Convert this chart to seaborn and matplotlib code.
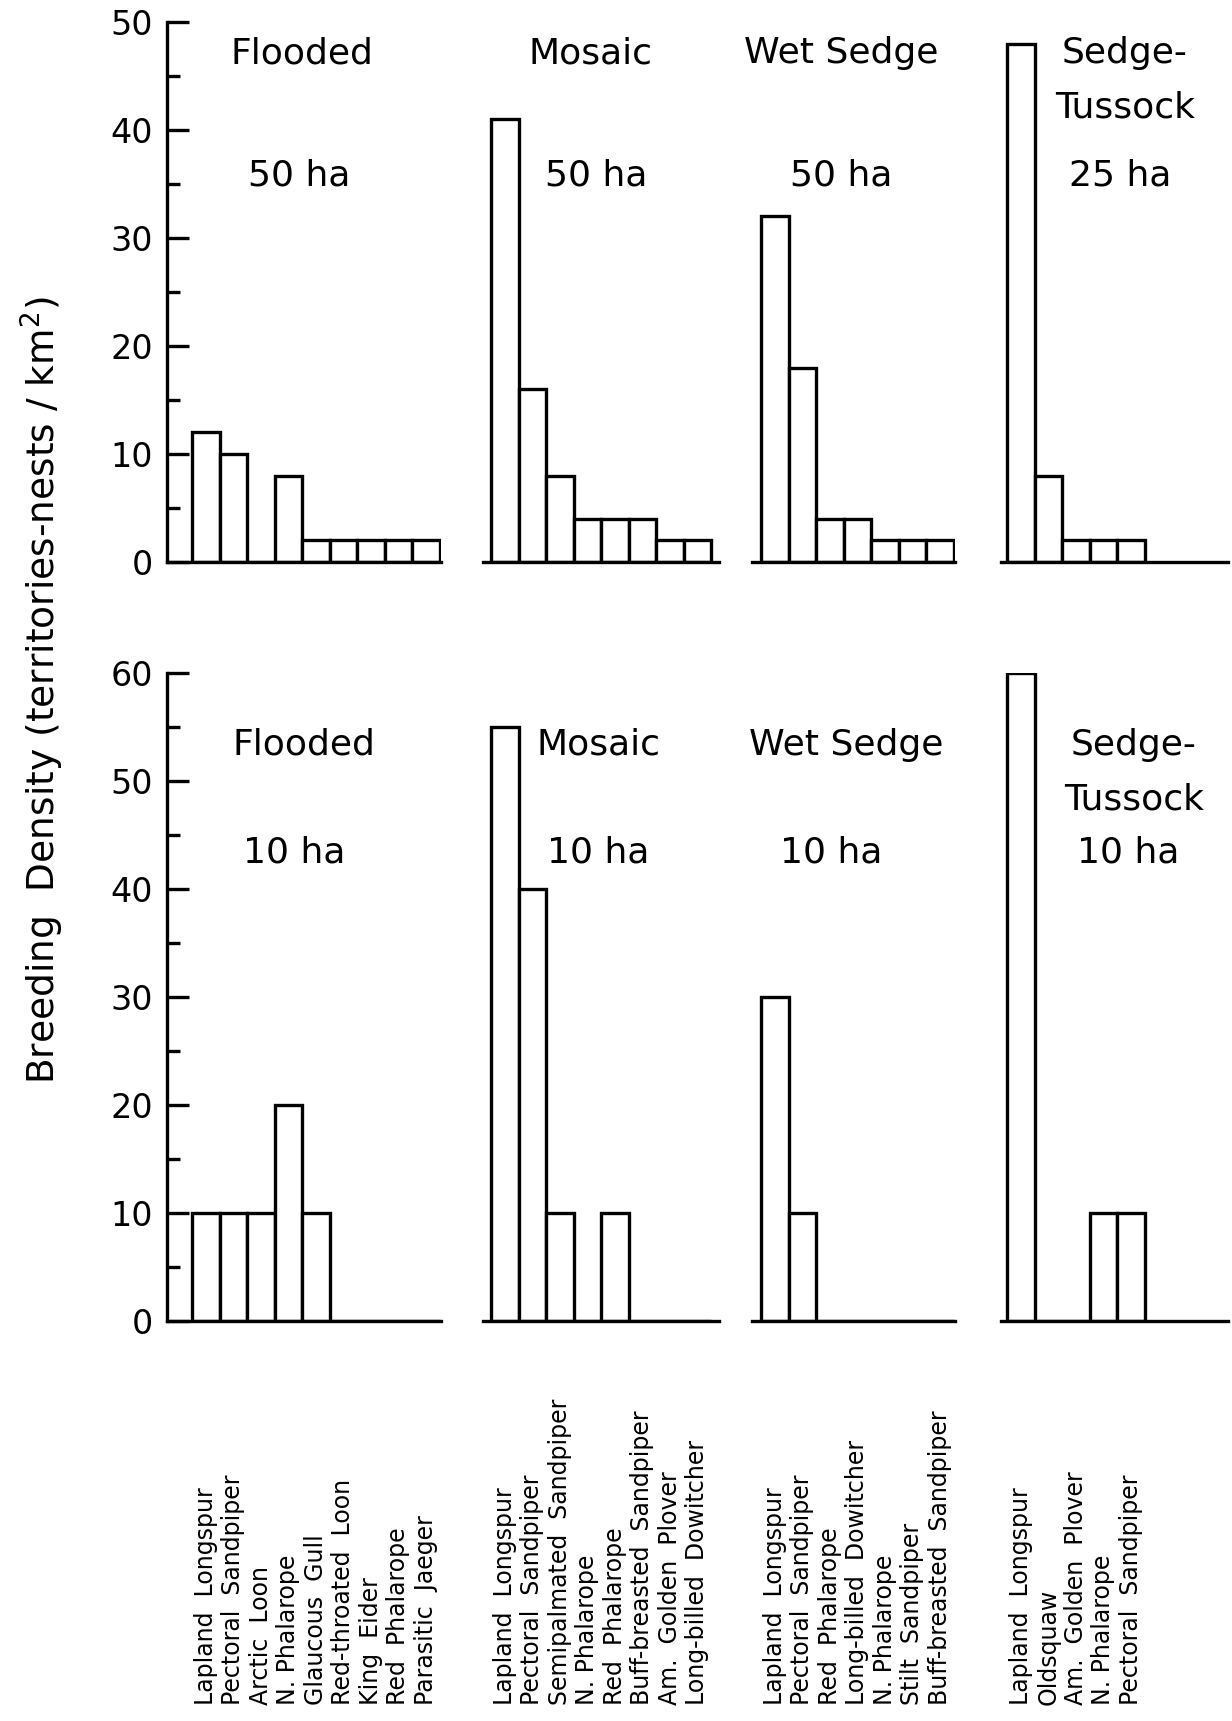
import matplotlib
matplotlib.use("Agg")
import matplotlib.pyplot as plt
from matplotlib.ticker import MultipleLocator
import seaborn as sns

# -----------------------------
# Data
# -----------------------------
flooded_species = [
    "Lapland  Longspur", "Pectoral  Sandpiper", "Arctic  Loon",
    "N. Phalarope", "Glaucous  Gull", "Red-throated  Loon",
    "King  Eider", "Red  Phalarope", "Parasitic  Jaeger",
]
mosaic_species = [
    "Lapland  Longspur", "Pectoral  Sandpiper", "Semipalmated  Sandpiper",
    "N. Phalarope", "Red  Phalarope", "Buff-breasted  Sandpiper",
    "Am.  Golden  Plover", "Long-billed  Dowitcher",
]
wet_species = [
    "Lapland  Longspur", "Pectoral  Sandpiper", "Red  Phalarope",
    "Long-billed  Dowitcher", "N. Phalarope", "Stilt  Sandpiper",
    "Buff-breasted  Sandpiper",
]
tussock_species = [
    "Lapland  Longspur", "Oldsquaw", "Am.  Golden  Plover",
    "N. Phalarope", "Pectoral  Sandpiper",
]

flooded_50 = [12, 10, 0, 8, 2, 2, 2, 2, 2]
mosaic_50 = [41, 16, 8, 4, 4, 4, 2, 2]
wet_50 = [32, 18, 4, 4, 2, 2, 2]
tussock_25 = [48, 8, 2, 2, 2]

flooded_10 = [10, 10, 10, 20, 10, 0, 0, 0, 0]
mosaic_10 = [55, 40, 10, 0, 10, 0, 0, 0]
wet_10 = [30, 10, 0, 0, 0, 0, 0]
tussock_10 = [60, 0, 0, 10, 10]

top_titles = [["Flooded"], ["Mosaic"], ["Wet Sedge"], ["Sedge-", "Tussock"]]
top_areas = ["50 ha", "50 ha", "50 ha", "25 ha"]
bottom_areas = ["10 ha", "10 ha", "10 ha", "10 ha"]

# -----------------------------
# Layout (pixels of the 1232 x 1721 figure)
# -----------------------------
W, H = 1232, 1721
sns.set_style("white")
plt.rcParams["font.family"] = ["DejaVu Sans"]
plt.rcParams["text.color"] = "black"
plt.rcParams["xtick.color"] = "black"
plt.rcParams["ytick.color"] = "black"
plt.rcParams["axes.labelcolor"] = "black"

fig = plt.figure(figsize=(W / 100, H / 100), dpi=100)

# x extent of each panel and where the first bar's left edge sits
panel_x = [(167, 441, 192), (483, 719, 491), (752, 955, 761), (1001, 1228, 1007)]
slot = 27.5
rows = [(22, 562, 50), (673, 1321, 60)]

species = [flooded_species, mosaic_species, wet_species, tussock_species]
values = [
    [flooded_50, mosaic_50, wet_50, tussock_25],
    [flooded_10, mosaic_10, wet_10, tussock_10],
]

title_pos = [
    [(302, 53), (591, 53), (841, 53), (1125, 53)],
    [(304, 745), (598, 745), (846, 745), (1134, 745)],
]
area_pos = [
    [(299, 176), (596, 176), (841, 176), (1120, 176)],
    [(294, 852), (598, 852), (831, 852), (1128, 852)],
]

LW = 2.4

for r, (y0, y1, ymax) in enumerate(rows):
    for c, (x0, x1, xb) in enumerate(panel_x):
        ax = fig.add_axes([x0 / W, 1 - y1 / H, (x1 - x0) / W, (y1 - y0) / H])
        n = len(species[c])

        sns.barplot(
            x=list(range(n)),
            y=values[r][c],
            ax=ax,
            color="white",
            edgecolor="black",
            linewidth=LW,
            width=1.0,
            saturation=1,
        )

        left = -0.5 - (xb - x0) / slot
        right = -0.5 + (x1 - xb) / slot
        ax.set_xlim(left, right)
        ax.set_ylim(0, ymax)
        ax.set_facecolor("none")

        for s in ["top", "right"]:
            ax.spines[s].set_visible(False)
        ax.spines["bottom"].set_linewidth(LW)
        ax.spines["bottom"].set_color("black")

        if c == 0:
            ax.spines["left"].set_linewidth(LW)
            ax.spines["left"].set_color("black")
            ax.yaxis.set_major_locator(MultipleLocator(10))
            ax.yaxis.set_minor_locator(MultipleLocator(5))
            ax.tick_params(axis="y", which="major", direction="in",
                           length=16, width=LW, labelsize=24, pad=10,
                           left=True)
            ax.tick_params(axis="y", which="minor", direction="in",
                           length=9, width=LW, left=True)
        else:
            ax.spines["left"].set_visible(False)
            ax.set_yticks([])

        ax.set_xticks(range(n))
        if r == 1:
            ax.set_xticklabels(species[c], rotation=90, va="bottom",
                               ha="center", fontsize=17)
            ax.tick_params(axis="x", length=0, pad=(1705 - y1) * 0.72)
        else:
            ax.set_xticklabels([])
            ax.tick_params(axis="x", length=0)
        ax.set_xlabel("")
        ax.set_ylabel("")

# -----------------------------
# Panel titles
# -----------------------------
for r in range(2):
    for c in range(4):
        tx, ty = title_pos[r][c]
        lines = top_titles[c]
        for k, line in enumerate(lines):
            fig.text(tx / W, 1 - (ty + k * 55) / H, line,
                     ha="center", va="center", fontsize=26)
        ax_, ay_ = area_pos[r][c]
        area = top_areas[c] if r == 0 else bottom_areas[c]
        fig.text(ax_ / W, 1 - ay_ / H, area,
                 ha="center", va="center", fontsize=26)

fig.text(42 / W, 1 - 690 / H,
         "Breeding  Density (territories-nests / km$^2$)",
         rotation=90, ha="center", va="center", fontsize=27)

fig.savefig("out.png", dpi=100)
plt.close(fig)
